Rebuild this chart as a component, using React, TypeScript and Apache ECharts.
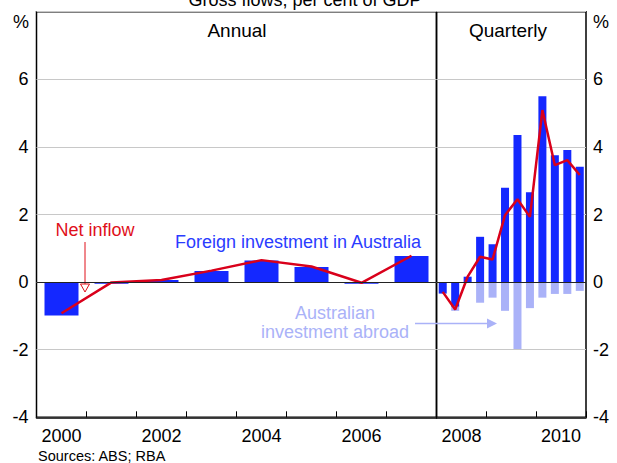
import React, { useEffect, useRef } from "react";
import * as echarts from "echarts";

// ---- Data ----
const annualYears = ["2000", "2001", "2002", "2003", "2004", "2005", "2006", "2007"];
const annualForeign = [-0.99, -0.05, 0.06, 0.33, 0.64, 0.45, -0.05, 0.77];
const annualNet = [-0.92, -0.01, 0.06, 0.34, 0.65, 0.46, -0.02, 0.78];

const quarters = [
  "2008Q1", "2008Q2", "2008Q3", "2008Q4",
  "2009Q1", "2009Q2", "2009Q3", "2009Q4",
  "2010Q1", "2010Q2", "2010Q3", "2010Q4",
];
const quarterlyForeign = [-0.34, -0.73, 0.16, 1.34, 1.12, 2.79, 4.35, 2.66, 5.5, 3.75, 3.91, 3.41];
const quarterlyAbroad = [0, -0.12, 0, -0.61, -0.46, -0.85, -1.98, -0.77, -0.46, -0.35, -0.35, -0.26];
const quarterlyNet = [-0.29, -0.81, 0.16, 0.75, 0.67, 1.98, 2.45, 1.93, 5.09, 3.46, 3.61, 3.17];

const quarterYearLabels = ["2008", "2010"];
const yMin = -4;
const yMax = 8;
const yInterval = 2;

const FONT = "'Liberation Sans', Arial, sans-serif";
const DARK = "#1428ff";
const LIGHT = "#aab2f8";
const RED = "#d9001b";

export default function App() {
  const ref = useRef<HTMLDivElement>(null);

  useEffect(() => {
    if (!ref.current) return;
    const chart = echarts.init(ref.current, null, { renderer: "svg" });

    const yAxisCommon = (pos: "left" | "right", gridIndex: number, margin: number) => ({
      type: "value",
      gridIndex,
      position: pos,
      min: yMin,
      max: yMax,
      interval: yInterval,
      axisLine: { show: false },
      axisTick: { show: false },
      splitLine: { show: true, lineStyle: { color: "#c8c8c8", width: 1 } },
      axisLabel: {
        margin,
        fontSize: 18,
        color: "#000",
        fontFamily: FONT,
        formatter: (v: number) => (v === yMax ? "" : String(v)),
      },
    });

    const zeroLine = {
      silent: true,
      symbol: "none",
      label: { show: false },
      lineStyle: { color: "#222", width: 1, type: "solid" },
      data: [{ yAxis: 0 }],
    };

    const option: any = {
      animation: false,
      backgroundColor: "#fff",
      textStyle: { fontFamily: FONT },
      grid: [
        { left: 36.5, top: 11.7, width: 400, height: 405.6, show: true, borderColor: "#000", borderWidth: 1.5, containLabel: false },
        { left: 436.5, top: 11.7, width: 149.5, height: 405.6, show: true, borderColor: "#000", borderWidth: 1.5, containLabel: false },
      ],
      xAxis: [
        {
          type: "category",
          gridIndex: 0,
          data: annualYears,
          position: "bottom",
          axisLine: { show: true, onZero: false, lineStyle: { color: "#000", width: 1.5 } },
          axisTick: { show: true, inside: true, length: 6, interval: 0, lineStyle: { color: "#000", width: 1 } },
          axisLabel: { interval: 1, fontSize: 18, color: "#000", margin: 10, fontFamily: FONT },
          splitLine: { show: false },
          z: 10,
        },
        {
          type: "category",
          gridIndex: 1,
          data: quarters,
          position: "bottom",
          axisLine: { show: true, onZero: false, lineStyle: { color: "#000", width: 1.5 } },
          axisTick: { show: true, inside: true, length: 6, interval: 3, lineStyle: { color: "#000", width: 1 } },
          axisLabel: { show: false },
          splitLine: { show: false },
          z: 10,
        },
        {
          type: "value",
          gridIndex: 1,
          position: "bottom",
          min: 2008,
          max: 2011,
          interval: 0.5,
          axisLine: { show: false, onZero: false },
          axisTick: { show: false },
          splitLine: { show: false },
          axisLabel: {
            fontSize: 18,
            color: "#000",
            margin: 10,
            fontFamily: FONT,
            formatter: (v: number) => {
              const y = String(Math.round(v - 0.5));
              return Math.abs((v % 1) - 0.5) < 1e-6 && quarterYearLabels.includes(y) ? y : "";
            },
          },
        },
      ],
      yAxis: [yAxisCommon("left", 0, 8), yAxisCommon("right", 1, 7)],
      series: [
        {
          type: "bar",
          xAxisIndex: 0,
          yAxisIndex: 0,
          data: annualForeign,
          barWidth: 34,
          itemStyle: { color: DARK },
          markLine: zeroLine,
        },
        {
          type: "line",
          xAxisIndex: 0,
          yAxisIndex: 0,
          data: annualNet,
          symbol: "none",
          lineStyle: { color: RED, width: 2.5 },
        },
        {
          type: "bar",
          xAxisIndex: 1,
          yAxisIndex: 1,
          data: quarterlyForeign,
          stack: "q",
          barWidth: 8,
          itemStyle: { color: DARK },
          markLine: zeroLine,
        },
        {
          type: "bar",
          xAxisIndex: 1,
          yAxisIndex: 1,
          data: quarterlyAbroad,
          stack: "q",
          barWidth: 8,
          itemStyle: { color: LIGHT },
        },
        {
          type: "line",
          xAxisIndex: 1,
          yAxisIndex: 1,
          data: quarterlyNet,
          symbol: "none",
          lineStyle: { color: RED, width: 2.5 },
        },
      ],
      graphic: [
        { type: "text", x: 305, y: 0, style: { text: "Gross flows, per cent of GDP", font: `18px ${FONT}`, fill: "#000", align: "center", verticalAlign: "middle" } },
        { type: "text", x: 237, y: 30, style: { text: "Annual", font: `19px ${FONT}`, fill: "#000", align: "center", verticalAlign: "middle" } },
        { type: "text", x: 508, y: 30, style: { text: "Quarterly", font: `19px ${FONT}`, fill: "#000", align: "center", verticalAlign: "middle" } },
        { type: "text", x: 21, y: 22, style: { text: "%", font: `18px ${FONT}`, fill: "#000", align: "center", verticalAlign: "middle" } },
        { type: "text", x: 601, y: 22, style: { text: "%", font: `18px ${FONT}`, fill: "#000", align: "center", verticalAlign: "middle" } },
        { type: "text", x: 95, y: 230, style: { text: "Net inflow", font: `18px ${FONT}`, fill: "#e0101a", align: "center", verticalAlign: "middle" } },
        { type: "line", shape: { x1: 85, y1: 242, x2: 85, y2: 284 }, style: { stroke: "#e0101a", lineWidth: 1 } },
        { type: "polygon", shape: { points: [[80.5, 284], [89.5, 284], [85, 292]] }, style: { stroke: "#e0101a", fill: "#fff", lineWidth: 1 } },
        { type: "text", x: 298, y: 242, style: { text: "Foreign investment in Australia", font: `18px ${FONT}`, fill: "#2a3cff", align: "center", verticalAlign: "middle" } },
        { type: "text", x: 335, y: 313, style: { text: "Australian", font: `18px ${FONT}`, fill: LIGHT, align: "center", verticalAlign: "middle" } },
        { type: "text", x: 335, y: 332, style: { text: "investment abroad", font: `18px ${FONT}`, fill: LIGHT, align: "center", verticalAlign: "middle" } },
        { type: "line", shape: { x1: 415, y1: 323.5, x2: 488, y2: 323.5 }, style: { stroke: LIGHT, lineWidth: 1.5 } },
        { type: "polygon", shape: { points: [[487, 318.5], [487, 328.5], [497, 323.5]] }, style: { fill: LIGHT } },
        { type: "text", x: 38, y: 455.5, style: { text: "Sources: ABS; RBA", font: `14.5px ${FONT}`, fill: "#000", align: "left", verticalAlign: "middle" } },
      ],
    };

    chart.setOption(option);
    return () => chart.dispose();
  }, []);

  return (
    <div
      ref={ref}
      style={{ position: "fixed", left: 0, top: 0, width: 617, height: 463, background: "#fff" }}
    />
  );
}
